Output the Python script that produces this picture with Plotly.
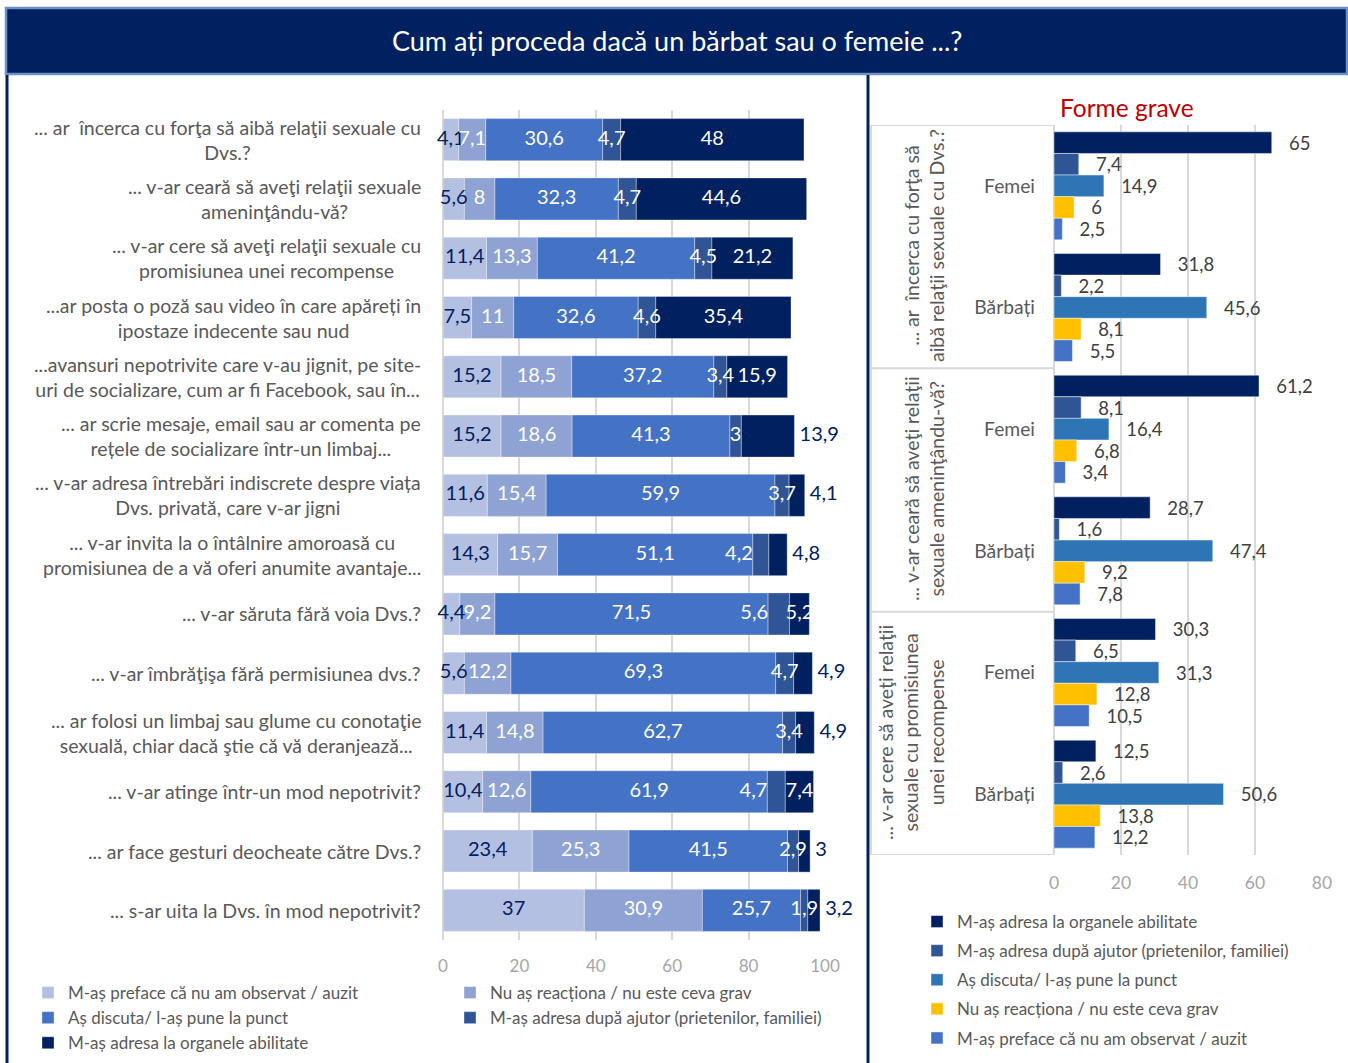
import plotly.graph_objects as go

W, H = 1348, 1063


def px_x(p):
    return p / W


def px_y(p):
    return 1 - p / H


FONT = "Lato, 'Noto Sans', 'DejaVu Sans', sans-serif"
NAVY = "#002060"
GRAY = "#595959"
GRID = "#D9D9D9"

# ---------------- data: left chart ----------------
categories = [
    "... ar  încerca cu forţa să aibă relaţii sexuale cu<br>Dvs.?",
    "... v-ar ceară să aveţi relaţii sexuale<br>ameninţându-vă?",
    "... v-ar cere să aveţi relaţii sexuale cu<br>promisiunea unei recompense",
    "...ar posta o poză sau video în care apăreți în<br>ipostaze indecente sau nud",
    "...avansuri nepotrivite care v-au jignit, pe site-<br>uri de socializare, cum ar fi Facebook, sau în...",
    "... ar scrie mesaje, email sau ar comenta pe<br>rețele de socializare într-un limbaj...",
    "... v-ar adresa întrebări indiscrete despre viața<br>Dvs. privată, care v-ar jigni",
    "... v-ar invita la o întâlnire amoroasă cu<br>promisiunea de a vă oferi anumite avantaje...",
    "... v-ar săruta fără voia Dvs.?",
    "... v-ar îmbrăţişa fără permisiunea dvs.?",
    "... ar folosi un limbaj sau glume cu conotaţie<br>sexuală, chiar dacă ştie că vă deranjează...",
    "... v-ar atinge într-un mod nepotrivit?",
    "... ar face gesturi deocheate către Dvs.?",
    "... s-ar uita la Dvs. în mod nepotrivit?",
]
preface = [4.1, 5.6, 11.4, 7.5, 15.2, 15.2, 11.6, 14.3, 4.4, 5.6, 11.4, 10.4, 23.4, 37]
nu_reactiona = [7.1, 8, 13.3, 11, 18.5, 18.6, 15.4, 15.7, 9.2, 12.2, 14.8, 12.6, 25.3, 30.9]
discuta = [30.6, 32.3, 41.2, 32.6, 37.2, 41.3, 59.9, 51.1, 71.5, 69.3, 62.7, 61.9, 41.5, 25.7]
ajutor = [4.7, 4.7, 4.5, 4.6, 3.4, 3, 3.7, 4.2, 5.6, 4.7, 3.4, 4.7, 2.9, 1.9]
organe = [48, 44.6, 21.2, 35.4, 15.9, 13.9, 4.1, 4.8, 5.2, 4.9, 4.9, 7.4, 3, 3.2]

series_names = [
    "M-aș preface că nu am observat / auzit",
    "Nu aș reacționa / nu este ceva grav",
    "Aș discuta/ l-aș pune la punct",
    "M-aș adresa după ajutor (prietenilor, familiei)",
    "M-aș adresa la organele abilitate",
]

# ---------------- data: right chart ----------------
right_questions = [
    "... ar  încerca cu forţa să<br>aibă relaţii sexuale cu Dvs.?",
    "... v-ar ceară să aveţi relaţii<br>sexuale ameninţându-vă?",
    "... v-ar cere să aveţi relaţii<br>sexuale cu promisiunea<br>unei recompense",
]
genders = ["Femei", "Bărbați"]
r_organe = [65, 31.8, 61.2, 28.7, 30.3, 12.5]
r_ajutor = [7.4, 2.2, 8.1, 1.6, 6.5, 2.6]
r_discuta = [14.9, 45.6, 16.4, 47.4, 31.3, 50.6]
r_nu = [6, 8.1, 6.8, 9.2, 12.8, 13.8]
r_preface = [2.5, 5.5, 3.4, 7.8, 10.5, 12.2]

left_ticks = [0, 20, 40, 60, 80, 100]
right_ticks = [0, 20, 40, 60, 80]


def fmt(v):
    return f"{v:g}".replace(".", ",")


fig = go.Figure()

# ---------------- left: stacked bars ----------------
left_styles = [
    ("#B4C0E2", NAVY, "legend"),
    ("#8FA2D4", "white", "legend3"),
    ("#4472C4", "white", "legend"),
    ("#2F5597", "white", "legend3"),
    (NAVY, "white", "legend"),
]
left_values = [preface, nu_reactiona, discuta, ajutor, organe]
# label placement style: last series labels outside the bar on these rows,
# small "ajutor" labels placed just before their segment on these rows
outside_rows = {5, 6, 7, 9, 10, 12, 13}
before_rows = {7, 8, 11}

base = [0.0] * len(categories)
label_traces = []
for k, (name, vals, (color, tcolor, leg)) in enumerate(zip(series_names, left_values, left_styles)):
    fig.add_trace(go.Bar(
        y=categories, x=vals, base=list(base), orientation="h", name=name,
        marker=dict(color=color, line=dict(color="rgba(255,255,255,0.35)", width=1)),
        width=0.71, offsetgroup="L", xaxis="x", yaxis="y", legend=leg,
        hoverinfo="skip",
    ))
    last = k == len(left_values) - 1
    xs, txt, pos, cols = [], [], [], []
    for i, (b, v) in enumerate(zip(base, vals)):
        if last and i in outside_rows:
            xs.append(b + v)
            txt.append("\u00a0" + fmt(v))
            pos.append("middle right")
            cols.append(NAVY)
        elif k == 3 and i in before_rows:
            xs.append(b)
            txt.append(fmt(v))
            pos.append("middle left")
            cols.append(tcolor)
        else:
            xs.append(b + v / 2)
            txt.append(fmt(v))
            pos.append("middle center")
            cols.append(tcolor)
    label_traces.append(go.Scatter(
        x=xs, y=categories, text=txt, mode="text", textposition=pos,
        textfont=dict(size=20, color=cols, family=FONT), cliponaxis=False,
        xaxis="x", yaxis="y", showlegend=False, hoverinfo="skip",
    ))
    base = [b + v for b, v in zip(base, vals)]

# ---------------- right: grouped bars ----------------
ykeys = [f"Q{qi + 1} {g}" for qi in range(len(right_questions)) for g in genders]
ylabels = [g for _ in right_questions for g in genders]
right_series = [
    (series_names[4], r_organe, NAVY),
    (series_names[3], r_ajutor, "#2F5597"),
    (series_names[2], r_discuta, "#2E75B6"),
    (series_names[1], r_nu, "#FFC000"),
    (series_names[0], r_preface, "#4472C4"),
]
for k, (name, vals, color) in enumerate(right_series):
    fig.add_trace(go.Bar(
        y=ykeys, x=vals, orientation="h", name=name,
        marker=dict(color=color, line=dict(color="rgba(255,255,255,0.45)", width=1)),
        text=[fmt(v) for v in vals], texttemplate="\u00a0\u00a0\u00a0%{text}",
        textposition="outside", textangle=0, constraintext="none", cliponaxis=False,
        outsidetextfont=dict(color="#404040", size=18.5, family=FONT),
        xaxis="x2", yaxis="y2", legend="legend2", legendgroup=f"r{k}",
        hoverinfo="skip",
    ))

for t in label_traces:
    fig.add_trace(t)

# ---------------- shapes ----------------
shapes = [
    dict(type="rect", xref="paper", yref="paper", x0=px_x(6), x1=px_x(1347),
         y0=px_y(74), y1=px_y(8), fillcolor=NAVY, line=dict(color="#6F8FC7", width=2.5), layer="below"),
    dict(type="line", xref="paper", yref="paper", x0=px_x(7), x1=px_x(7),
         y0=px_y(75), y1=0, line=dict(color=NAVY, width=3)),
    dict(type="line", xref="paper", yref="paper", x0=px_x(868), x1=px_x(868),
         y0=px_y(75), y1=0, line=dict(color=NAVY, width=3)),
    dict(type="line", xref="paper", yref="y2", x0=px_x(871), x1=px_x(871),
         y0=-0.5, y1=5.5, line=dict(color=GRID, width=2)),
]
for yb in [-0.5, 1.5, 3.5, 5.5]:
    shapes.append(dict(type="line", xref="paper", yref="y2", x0=px_x(871), x1=px_x(1054),
                       y0=yb, y1=yb, line=dict(color=GRID, width=2)))

# ---------------- annotations ----------------
annotations = [
    dict(text="Cum ați proceda dacă un bărbat sau o femeie ...?", x=px_x(677), y=px_y(40),
         xref="paper", yref="paper", showarrow=False, xanchor="center", yanchor="middle",
         font=dict(color="white", size=27, family=FONT)),
    dict(text="Forme grave", x=px_x(1127), y=px_y(107), xref="paper", yref="paper",
         showarrow=False, xanchor="center", yanchor="middle",
         font=dict(color="#C00000", size=24.5, family=FONT)),
]
for c in categories:
    annotations.append(dict(text=c, x=px_x(423), y=c, xref="paper", yref="y", showarrow=False,
                            xanchor="right", yanchor="middle", align="center",
                            font=dict(color=GRAY, size=19.5, family=FONT)))
group_centers = [(924, 246), (924, 489), (911, 733)]
for q, (cx, cy) in zip(right_questions, group_centers):
    annotations.append(dict(text=q, x=px_x(cx), y=px_y(cy), xref="paper", yref="paper",
                            showarrow=False, textangle=-90, xanchor="center", yanchor="middle",
                            align="center", font=dict(color=GRAY, size=19.5, family=FONT)))

legend_common = dict(orientation="v", xanchor="left", yanchor="top", bgcolor="rgba(0,0,0,0)",
                     font=dict(color=GRAY, size=17, family=FONT), itemclick=False,
                     itemdoubleclick=False, itemwidth=30)

fig.update_layout(
    width=W, height=H, margin=dict(l=0, r=0, t=0, b=0, autoexpand=False),
    paper_bgcolor="white", plot_bgcolor="white",
    barmode="group", bargap=0.113, bargroupgap=0,
    separators=",.", font=dict(family=FONT, color=GRAY),
    showlegend=True,
    xaxis=dict(domain=[px_x(443), px_x(825)], range=[0, 100], tickvals=left_ticks,
               showgrid=True, gridcolor=GRID, gridwidth=2, zeroline=True, zerolinecolor=GRID,
               zerolinewidth=2, showline=False, tickfont=dict(size=17, color="#A6A6A6", family=FONT),
               ticklabelstandoff=14, anchor="y", fixedrange=True, automargin=False),
    yaxis=dict(domain=[px_y(940), px_y(110)], type="category", range=[13.5, -0.5],
               showticklabels=False, showgrid=False, zeroline=False, anchor="x", fixedrange=True,
               automargin=False),
    xaxis2=dict(domain=[px_x(1054), px_x(1322)], range=[0, 80], tickvals=right_ticks,
                showgrid=True, gridcolor=GRID, gridwidth=2, zeroline=True, zerolinecolor=GRID,
                zerolinewidth=2, showline=False, tickfont=dict(size=17.5, color="#A6A6A6", family=FONT),
                ticklabelstandoff=15, anchor="y2", fixedrange=True, automargin=False),
    yaxis2=dict(domain=[px_y(855), px_y(125)], type="category", range=[5.5, -0.5],
                tickvals=ykeys, ticktext=ylabels, showgrid=False, zeroline=False,
                tickfont=dict(size=19.3, color=GRAY, family=FONT), ticklabelstandoff=18,
                anchor="x2", fixedrange=True, automargin=False),
    legend=dict(x=px_x(28), y=px_y(975), traceorder="normal", **legend_common),
    legend3=dict(x=px_x(450), y=px_y(975), traceorder="normal", **legend_common),
    legend2=dict(x=px_x(917), y=px_y(904), traceorder="grouped", tracegroupgap=4, **legend_common),
    shapes=shapes,
    annotations=annotations,
)

fig.write_html(
    "out.html",
    post_script="document.body.style.margin='0';document.body.style.overflow='hidden';"
                "document.documentElement.style.overflow='hidden';",
)
